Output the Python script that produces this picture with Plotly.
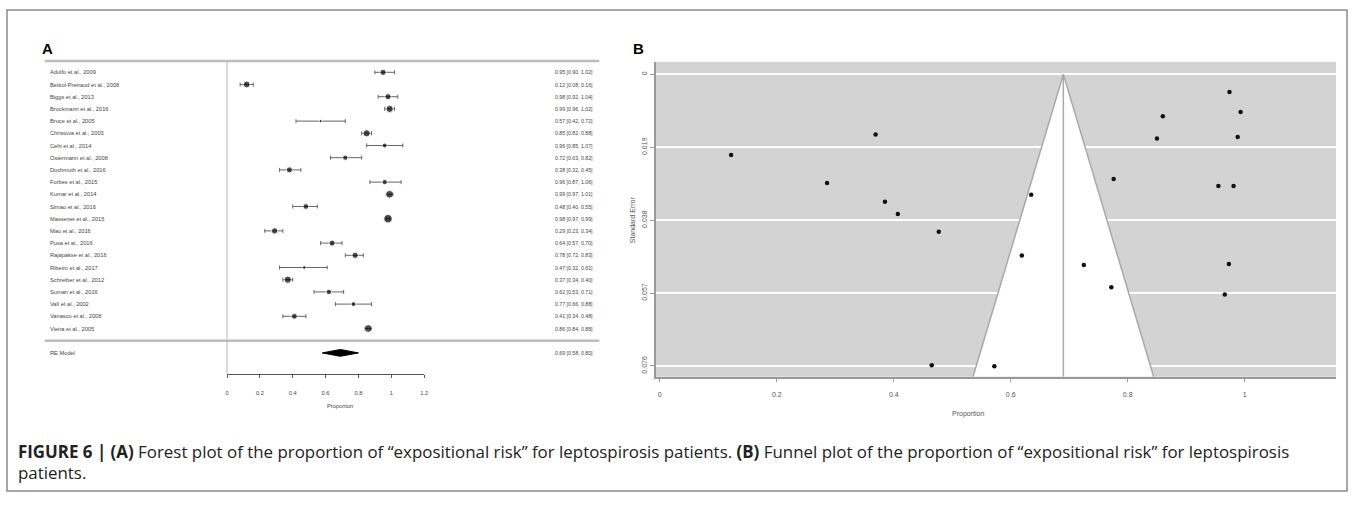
import numpy as np
import plotly.graph_objects as go

W, H = 1357, 511

# ---------------- data ----------------
studies = ["Adulfo et al., 2009", "Bettiol-Pretraud et al., 2008", "Biggs et al., 2013",
           "Brockmann et al., 2016", "Bruce et al., 2005", "Christova et al., 2003",
           "Cehi et al., 2014", "Ostermann et al., 2008", "Dochmuth et al., 2016",
           "Forbes et al., 2015", "Kumar et al., 2014", "Simao et al., 2016",
           "Massenet et al., 2015", "Mao et al., 2016", "Pusa et al., 2016",
           "Rajapakse et al., 2016", "Ribeiro et al., 2017", "Schreiber et al., 2012",
           "Suman et al., 2016", "Vall et al., 2002", "Vanasco et al., 2008",
           "Vieira et al., 2005"]
est   = [0.95, 0.12, 0.98, 0.99, 0.57, 0.85, 0.96, 0.72, 0.38, 0.96, 0.99,
         0.48, 0.98, 0.29, 0.64, 0.78, 0.47, 0.37, 0.62, 0.77, 0.41, 0.86]
ci_lo = [0.90, 0.08, 0.92, 0.96, 0.42, 0.82, 0.85, 0.63, 0.32, 0.87, 0.97,
         0.40, 0.97, 0.23, 0.57, 0.72, 0.32, 0.34, 0.53, 0.66, 0.34, 0.84]
ci_hi = [1.02, 0.16, 1.04, 1.02, 0.72, 0.88, 1.07, 0.82, 0.45, 1.06, 1.01,
         0.55, 0.99, 0.34, 0.70, 0.83, 0.61, 0.40, 0.71, 0.88, 0.48, 0.88]
re_label = "RE Model"
re_est, re_lo, re_hi = 0.69, 0.58, 0.80

forest_ticks = [0, 0.2, 0.4, 0.6, 0.8, 1, 1.2]
forest_ticktext = ["0", "0.2", "0.4", "0.6", "0.8", "1", "1.2"]

# funnel plot (panel B) values
funnel_prop = [0.955, 0.122, 0.981, 0.988, 0.572, 0.850, 0.966, 0.725, 0.385, 0.973, 0.993,
               0.477, 0.974, 0.286, 0.635, 0.776, 0.465, 0.369, 0.619, 0.772, 0.407, 0.860]
funnel_se   = [0.0291, 0.0210, 0.0291, 0.0163, 0.0761, 0.0167, 0.0574, 0.0497, 0.0332, 0.0494, 0.0098,
               0.0410, 0.0046, 0.0283, 0.0314, 0.0273, 0.0758, 0.0157, 0.0472, 0.0555, 0.0364, 0.0109]
funnel_center = 0.69
funnel_xticks = [0, 0.2, 0.4, 0.6, 0.8, 1]
funnel_xticktext = ["0", "0.2", "0.4", "0.6", "0.8", "1"]
funnel_yticks = [0, 0.019, 0.038, 0.057, 0.076]
funnel_yticktext = ["0", "0.019", "0.038", "0.057", "0.076"]

caption1 = ("<b>FIGURE 6 | (A)</b> Forest plot of the proportion of \u201cexpositional risk\u201d for "
            "leptospirosis patients. <b>(B)</b> Funnel plot of the proportion of \u201cexpositional risk\u201d for leptospirosis")
caption2 = "patients."

# ---------------- layout helpers ----------------
def px(x):
    return x / W

def py(y):
    return 1 - y / H

k = len(studies)
rows = np.arange(k, 0, -1)          # top study at k, bottom at 1
re_row = -1
ROW0_PX, ROW_H = 72.3, 12.2         # pixel y of top row, row spacing
FX0, FXS = 226.0, 165.0             # forest x: pixel = 226 + 165 * value
fx_range = [-FX0 / FXS, (W - FX0) / FXS]
fy_range = [k - (H - ROW0_PX) / ROW_H, k + ROW0_PX / ROW_H]

est_a = np.array(est); lo_a = np.array(ci_lo); hi_a = np.array(ci_hi)
se_a = (hi_a - lo_a) / 3.92
lw = np.log(1 / se_a)
msize = 3.0 + np.sqrt((lw - lw.min()) / (lw.max() - lw.min())) * 5.5

fig = go.Figure()

fig.add_trace(go.Scatter(
    x=est_a, y=rows, mode="markers",
    marker=dict(size=msize, color="black", symbol="circle"),
    error_x=dict(type="data", symmetric=False, array=hi_a - est_a, arrayminus=est_a - lo_a,
                 color="#666", thickness=1, width=2),
    xaxis="x", yaxis="y", showlegend=False, hoverinfo="skip"))

dh = 0.28
fig.add_trace(go.Scatter(
    x=[re_lo, re_est, re_hi, re_est, re_lo], y=[re_row, re_row + dh, re_row, re_row - dh, re_row],
    mode="lines", fill="toself", fillcolor="black", line=dict(color="black", width=1),
    xaxis="x", yaxis="y", showlegend=False, hoverinfo="skip"))

fig.add_trace(go.Scatter(x=[0.6], y=[0], mode="markers", marker=dict(opacity=0),
                         xaxis="x3", yaxis="y", showlegend=False, hoverinfo="skip"))

se_bottom = 0.0788
fig.add_trace(go.Scatter(
    x=[funnel_center - 1.96 * se_bottom, funnel_center, funnel_center + 1.96 * se_bottom],
    y=[se_bottom, 0, se_bottom],
    mode="lines", fill="toself", fillcolor="white", line=dict(color="#a8a8a8", width=1.5),
    xaxis="x2", yaxis="y2", showlegend=False, hoverinfo="skip"))
fig.add_trace(go.Scatter(
    x=[funnel_center, funnel_center], y=[0, se_bottom], mode="lines",
    line=dict(color="#a8a8a8", width=1.5),
    xaxis="x2", yaxis="y2", showlegend=False, hoverinfo="skip"))
fig.add_trace(go.Scatter(
    x=funnel_prop, y=funnel_se, mode="markers", marker=dict(size=4.5, color="#111"),
    xaxis="x2", yaxis="y2", showlegend=False, hoverinfo="skip"))

shapes = []
shapes.append(dict(type="rect", xref="paper", yref="paper", x0=px(5), x1=px(1351), y0=py(491), y1=py(10),
                   line=dict(color="#8a8a8a", width=1.5), layer="below"))
shapes.append(dict(type="line", xref="paper", yref="paper", x0=px(43), x1=px(600), y0=py(61), y1=py(61),
                   line=dict(color="#bdbdbd", width=2.5)))
shapes.append(dict(type="line", xref="paper", yref="y", x0=px(43), x1=px(600), y0=0, y1=0,
                   line=dict(color="#bdbdbd", width=2.5)))
shapes.append(dict(type="line", xref="x", yref="paper", x0=0, x1=0, y0=py(374), y1=py(61),
                   line=dict(color="#cfcfcf", width=1.5), layer="below"))
shapes.append(dict(type="rect", xref="x2 domain", yref="y2 domain", x0=0, x1=1, y0=0, y1=1,
                   fillcolor="#d3d3d3", line=dict(width=0), layer="below"))

annotations = []
lab_font = dict(family="Liberation Sans", size=5.7, color="#444")
est_font = dict(family="Liberation Sans", size=5.2, color="#444")
for r, name, e, l, h in zip(rows, studies, est, ci_lo, ci_hi):
    annotations.append(dict(x=px(46), y=r, xref="paper", yref="y", text=name, showarrow=False,
                            xanchor="left", yanchor="middle", font=lab_font))
    annotations.append(dict(x=px(596), y=r, xref="paper", yref="y",
                            text=f"{e:.2f} [{l:.2f}, {h:.2f}]", showarrow=False,
                            xanchor="right", yanchor="middle", font=est_font))
annotations.append(dict(x=px(46), y=re_row, xref="paper", yref="y", text=re_label, showarrow=False,
                        xanchor="left", yanchor="middle", font=lab_font))
annotations.append(dict(x=px(596), y=re_row, xref="paper", yref="y",
                        text=f"{re_est:.2f} [{re_lo:.2f}, {re_hi:.2f}]", showarrow=False,
                        xanchor="right", yanchor="middle", font=est_font))
annotations.append(dict(x=px(324), y=py(411), xref="paper", yref="paper", text="Proportion",
                        showarrow=False, font=lab_font))
annotations.append(dict(x=px(38), y=py(38), xref="paper", yref="paper", text="<b>A</b>",
                        showarrow=False, xanchor="left", font=dict(family="Liberation Sans", size=15, color="black")))
annotations.append(dict(x=px(632), y=py(38), xref="paper", yref="paper", text="<b>B</b>",
                        showarrow=False, xanchor="left", font=dict(family="Liberation Sans", size=15, color="black")))
fun_font = dict(family="Liberation Sans", size=7, color="#555")
annotations.append(dict(x=px(988), y=py(420), xref="paper", yref="paper", text="Proportion",
                        showarrow=False, font=fun_font))
annotations.append(dict(x=px(633), y=py(220), xref="paper", yref="paper", text="Standard Error",
                        showarrow=False, textangle=-90, font=fun_font))
cap_font = dict(family="Open Sans", size=16.9, color="#222")
annotations.append(dict(x=px(14), y=py(451), xref="paper", yref="paper", text=caption1,
                        showarrow=False, xanchor="left", yanchor="middle", font=cap_font))
annotations.append(dict(x=px(14), y=py(472), xref="paper", yref="paper", text=caption2,
                        showarrow=False, xanchor="left", yanchor="middle", font=cap_font))

F2X0, F2XS = 660.7, 587.5
x2_lo, x2_hi = 656.7, 1340.0

fig.update_layout(
    width=W, height=H, margin=dict(l=0, r=0, t=0, b=0),
    paper_bgcolor="white", plot_bgcolor="rgba(0,0,0,0)",
    showlegend=False,
    xaxis=dict(domain=[0, 1], range=fx_range, visible=False, fixedrange=True),
    yaxis=dict(domain=[0, 1], range=fy_range, visible=False, fixedrange=True),
    xaxis3=dict(domain=[px(226), px(424)], range=[0, 1.2], anchor="free", position=py(374),
                showline=True, linecolor="#555", linewidth=1, ticks="outside", ticklen=3,
                tickcolor="#555", tickvals=forest_ticks, ticktext=forest_ticktext,
                tickfont=lab_font, ticklabelstandoff=10, showgrid=False, zeroline=False),
    xaxis2=dict(domain=[px(x2_lo), px(x2_hi)],
                range=[(x2_lo - F2X0) / F2XS, (x2_hi - F2X0) / F2XS], anchor="y2",
                showline=True, linecolor="#999", linewidth=1.5, ticks="outside", ticklen=4,
                tickcolor="#999", tickvals=funnel_xticks, ticktext=funnel_xticktext,
                tickfont=fun_font, ticklabelstandoff=6, showgrid=False, zeroline=False),
    yaxis2=dict(domain=[py(376.7), py(61.7)], range=[se_bottom, -0.0033], anchor="x2",
                showline=True, linecolor="#999", linewidth=1.5, ticks="outside", ticklen=4,
                tickcolor="#999", tickvals=funnel_yticks, ticktext=funnel_yticktext,
                tickangle=-90, tickfont=fun_font, showgrid=True, gridcolor="white", gridwidth=1.5,
                zeroline=False),
    shapes=shapes, annotations=annotations,
)

fig.write_html("out.html")
